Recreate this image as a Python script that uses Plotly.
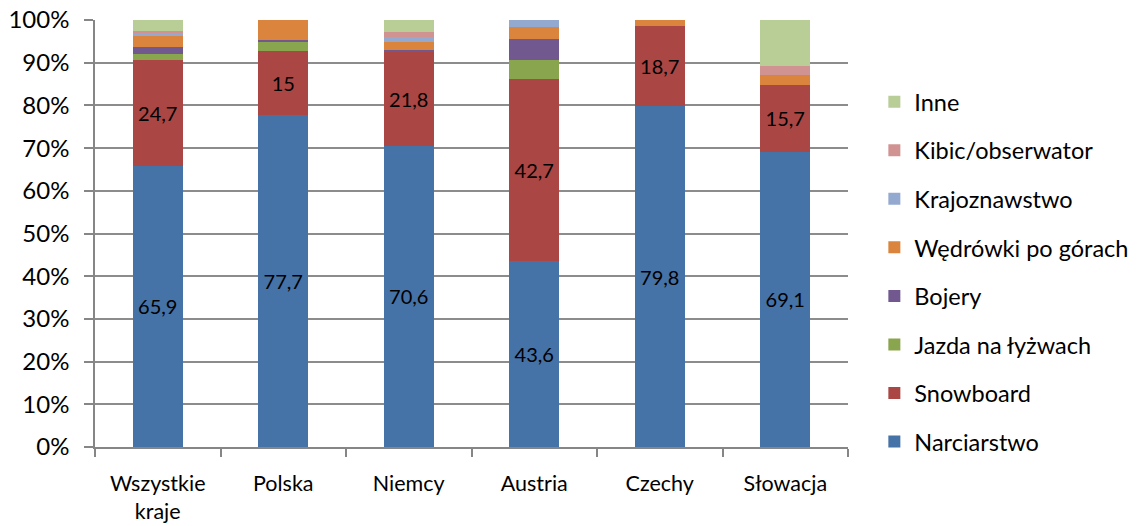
import plotly.graph_objects as go

# Kategorie (kraje) i udziały procentowe form aktywności
kraje = ["Wszystkie<br>kraje", "Polska", "Niemcy", "Austria", "Czechy", "Słowacja"]

narciarstwo = [65.9, 77.7, 70.6, 43.6, 79.8, 69.1]
snowboard = [24.7, 15.0, 21.8, 42.7, 18.7, 15.7]
jazda_na_lyzwach = [1.5, 2.1, 0.0, 4.4, 0.0, 0.0]
bojery = [1.5, 0.6, 0.6, 4.8, 0.0, 0.0]
wedrowki = [2.7, 4.6, 1.9, 2.9, 1.5, 2.3]
krajoznawstwo = [0.6, 0.0, 1.2, 1.6, 0.0, 0.0]
kibic = [0.5, 0.0, 1.2, 0.0, 0.0, 2.1]
inne = [2.6, 0.0, 2.7, 0.0, 0.0, 10.8]

serie = [
    ("Narciarstwo", narciarstwo, "#4572A7", True),
    ("Snowboard", snowboard, "#AA4643", True),
    ("Jazda na łyżwach", jazda_na_lyzwach, "#89A54E", False),
    ("Bojery", bojery, "#71588F", False),
    ("Wędrówki po górach", wedrowki, "#DB843D", False),
    ("Krajoznawstwo", krajoznawstwo, "#93A9CF", False),
    ("Kibic/obserwator", kibic, "#D19392", False),
    ("Inne", inne, "#B9CD96", False),
]

FONT = "Lato"


def etykieta(v):
    return f"{v:g}".replace(".", ",")


fig = go.Figure()
n = len(serie)
for i, (nazwa, wartosci, kolor, z_etykieta) in enumerate(serie):
    fig.add_trace(go.Bar(
        name=nazwa,
        x=kraje,
        y=wartosci,
        marker=dict(color=kolor, line=dict(width=0)),
        text=[etykieta(v) for v in wartosci] if z_etykieta else None,
        textposition="inside" if z_etykieta else "none",
        insidetextanchor="middle",
        textangle=0,
        textfont=dict(family=FONT, size=20, color="black"),
        legendgroup=nazwa,
        legendrank=n - i,
        hoverinfo="name+y",
    ))

fig.update_layout(
    barmode="stack",
    bargap=0.6,
    width=1146,
    height=526,
    margin=dict(l=95, r=291, t=20, b=79),
    paper_bgcolor="white",
    plot_bgcolor="white",
    font=dict(family=FONT, size=21, color="black"),
    uniformtext=dict(minsize=19, mode="show"),
    legend=dict(
        traceorder="grouped",
        tracegroupgap=15,
        x=1.035,
        xanchor="left",
        y=0.41,
        yanchor="middle",
        font=dict(family=FONT, size=23.5, color="black"),
        itemwidth=30,
    ),
    xaxis=dict(
        showline=True,
        linecolor="#868686",
        linewidth=1.5,
        ticks="outside",
        tickson="boundaries",
        ticklen=8,
        tickcolor="#868686",
        tickwidth=1.5,
        tickfont=dict(family=FONT, size=21.5),
        ticklabelstandoff=16,
        automargin=False,
    ),
    yaxis=dict(
        range=[0, 100],
        tickvals=[0, 10, 20, 30, 40, 50, 60, 70, 80, 90, 100],
        ticktext=[f"{v}%" for v in range(0, 101, 10)],
        showgrid=True,
        gridcolor="#8c8c8c",
        gridwidth=1.5,
        showline=True,
        linecolor="#868686",
        linewidth=1.5,
        ticks="outside",
        ticklen=9,
        tickcolor="#868686",
        tickwidth=1.5,
        tickfont=dict(family=FONT, size=24),
        ticklabelstandoff=10,
        zeroline=False,
        automargin=False,
    ),
)

fig.write_html("out.html")
